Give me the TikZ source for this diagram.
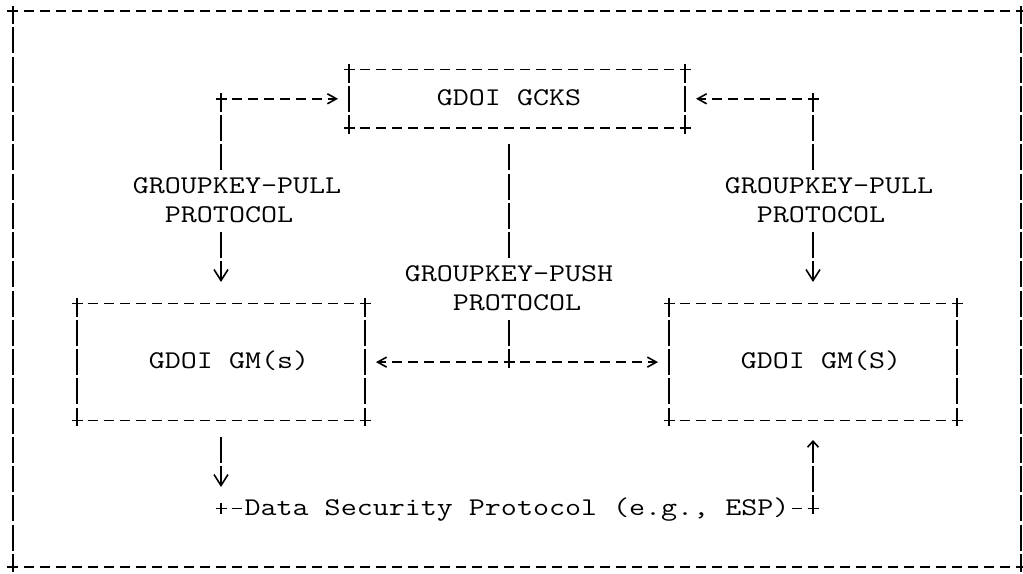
\documentclass[tikz,border=0pt]{standalone}
\usepackage{graphicx}
\usepackage{tikz}
\usetikzlibrary{arrows.meta}
\newcommand{\asc}[1]{\scalebox{1.22}[1]{#1}}
\tikzset{%
  mybox/.style={rectangle, inner sep=0pt, outer sep=0pt},
  mytext/.style={font=\ttfamily\fontsize{25.5}{30}\selectfont, inner sep=0pt, outer sep=0pt,
    minimum height=29.26pt, text height=13.4pt, text depth=0pt},
  mylabel/.style={mytext, fill=white},
  myhline/.style={line width=1.7pt, dash pattern=on 10pt off 6pt, dash phase=5pt},
  myvline/.style={line width=1.7pt, dash pattern=on 26pt off 3.26pt, dash phase=13pt},
  myplus/.style={line width=1.7pt},
  myside/.style={-{Straight Barb[length=9pt, width=10pt, line width=1.6pt]}, shorten >=11pt},
  mydown/.style={-{Straight Barb[length=11pt, width=14pt, line width=1.6pt]}},
  myup/.style={-{Straight Barb[length=6pt, width=11pt, line width=1.6pt]}}
}
\begin{document}
\begin{tikzpicture}[x=16pt, y=-29.26pt]
  \useasboundingbox (-0.8125,-0.3759) rectangle (63.125,19.241);

% boxes
\node [mybox, minimum width=1008pt, minimum height=555.94pt] (frame) at (31.5,9.5) {};
\node [mybox, minimum width=336pt, minimum height=58.52pt] (gcks) at (31.5,3) {};
\node [mybox, minimum width=288pt, minimum height=117.04pt] (gms) at (13,12) {};
\node [mybox, minimum width=288pt, minimum height=117.04pt] (gmS) at (50,12) {};

\foreach \b in {frame, gcks, gms, gmS} {
  \draw [myhline] (\b.north west) -- (\b.north east);
  \draw [myhline] (\b.south west) -- (\b.south east);
  \draw [myvline] (\b.north west) -- (\b.south west);
  \draw [myvline] (\b.north east) -- (\b.south east);
  \foreach \a in {north west, north east, south west, south east} {
    \draw [myplus] (\b.\a) +(-5.5pt,0pt) -- +(5.5pt,0pt) +(0pt,-5.5pt) -- +(0pt,5.5pt);
  }
}

\node [mytext] (gcksT) at (31,3) {\asc{GDOI GCKS}};
\node [mytext] (gmsT) at (13.5,12) {\asc{GDOI GM(s)}};
\node [mytext] (gmST) at (50.5,12) {\asc{GDOI GM(S)}};

% corners of the connectors
\coordinate (pullL) at (13,3);
\coordinate (pullR) at (50,3);
\coordinate (push) at (31,12);
\coordinate (dataL) at (13,17);
\coordinate (dataR) at (50,17);

% pull
\draw [myhline, myside] (pullL) -- (gcks.west);
\draw [myhline, myside] (pullR) -- (gcks.east);
\draw [myvline, mydown, shorten >=21.6pt] (pullL) -- (pullL |- gms.north);
\draw [myvline, mydown, shorten >=21.6pt] (pullR) -- (pullR |- gmS.north);

% push
\draw [myvline, dash phase=0pt, shorten <=16.26pt] (push |- gcks.south) -- (push);
\draw [myhline, myside] (push) -- (gms.east);
\draw [myhline, myside] (push) -- (gmS.west);

% data
\draw [myvline, dash phase=0pt, shorten <=16.26pt, mydown, shorten >=21.4pt] (gms.south) -- (dataL);
\draw [myhline] (dataL) -- (dataR);
\draw [myvline, myup, shorten >=19.4pt] (dataR) -- (gmS.south);

\foreach \p in {pullL, pullR, push, dataL, dataR} {
  \draw [myplus] (\p) +(-5.5pt,0pt) -- +(5.5pt,0pt) +(0pt,-5.5pt) -- +(0pt,5.5pt);
}

% labels
\node [mylabel] (pullLa) at (14,6) {\asc{GROUPKEY-PULL}};
\node [mylabel] (pullLb) at (13.5,7) {\asc{PROTOCOL}};
\node [mylabel] (pullRa) at (51,6) {\asc{GROUPKEY-PULL}};
\node [mylabel] (pullRb) at (50.5,7) {\asc{PROTOCOL}};
\node [mylabel] (pusha) at (31,9) {\asc{GROUPKEY-PUSH}};
\node [mylabel] (pushb) at (31.5,10) {\asc{PROTOCOL}};
\node [mylabel] (data) at (31.5,17) {\asc{Data Security Protocol (e.g., ESP)}};

\end{tikzpicture}
\end{document}
